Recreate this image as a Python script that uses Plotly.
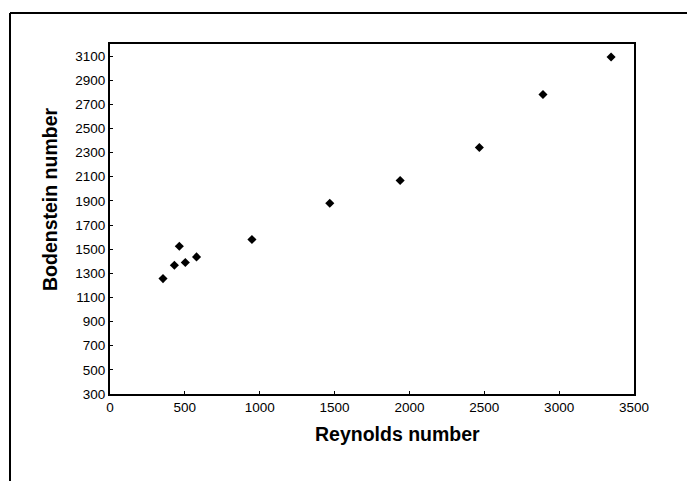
import plotly.graph_objects as go

reynolds = [354, 430, 463, 503, 578, 948, 1468, 1938, 2467, 2892, 3347]
bodenstein = [1256, 1367, 1524, 1389, 1436, 1580, 1881, 2069, 2343, 2782, 3092]

x_ticks = [0, 500, 1000, 1500, 2000, 2500, 3000, 3500]
y_ticks = [300, 500, 700, 900, 1100, 1300, 1500, 1700, 1900, 2100, 2300, 2500, 2700, 2900, 3100]

x_title = "Reynolds number"
y_title = "Bodenstein number"

W, H = 695, 481
OFF = 8  # page body margin
# plot area in screen pixels: x 110..634, y 44..394
SL, ST, SR, SB = 110, 44, 634, 394
L, T = SL - OFF, ST - OFF
pw, ph = SR - SL, SB - ST
R, B = W - L - pw, H - T - ph

def px(xs):
    return (xs - SL) / pw

def py(ys):
    return (SB - ys) / ph

fig = go.Figure()
fig.add_trace(go.Scatter(
    x=reynolds, y=bodenstein, mode="markers",
    marker=dict(symbol="diamond", size=7, color="black"),
    showlegend=False,
))

axis_common = dict(
    showgrid=False, zeroline=False, showline=True, linecolor="black",
    linewidth=2, mirror=True, ticks="inside", ticklen=3, tickcolor="black",
    tickfont=dict(family="Liberation Sans, Arial, sans-serif", size=13.5, color="black"),
)

fig.update_xaxes(range=[0, 3500], tickmode="array", tickvals=x_ticks,
                 ticktext=[str(v) for v in x_ticks], **axis_common)
fig.update_yaxes(range=[300, 3200], tickmode="array", tickvals=y_ticks,
                 ticktext=[str(v) for v in y_ticks], **axis_common)

fig.add_annotation(text="<b>" + x_title + "</b>", xref="paper", yref="paper",
                   x=px(397), y=py(434), xanchor="center", yanchor="middle",
                   showarrow=False,
                   font=dict(family="Liberation Sans, Arial, sans-serif", size=19.5, color="black"))
fig.add_annotation(text="<b>" + y_title + "</b>", xref="paper", yref="paper",
                   x=px(50), y=py(199), xanchor="center", yanchor="middle",
                   textangle=-90, showarrow=False,
                   font=dict(family="Liberation Sans, Arial, sans-serif", size=19.5, color="black"))

# outer frame (left and top edges)
fig.add_shape(type="line", xref="paper", yref="paper",
              x0=px(10), x1=px(10), y0=py(13), y1=py(481),
              line=dict(color="black", width=2))
fig.add_shape(type="line", xref="paper", yref="paper",
              x0=px(10), x1=px(695), y0=py(13), y1=py(13),
              line=dict(color="black", width=2))

fig.update_layout(
    width=W, height=H,
    margin=dict(l=L, r=R, t=T, b=B),
    paper_bgcolor="white", plot_bgcolor="white",
    font=dict(family="Liberation Sans, Arial, sans-serif", color="black"),
)

fig.write_html("out.html")
